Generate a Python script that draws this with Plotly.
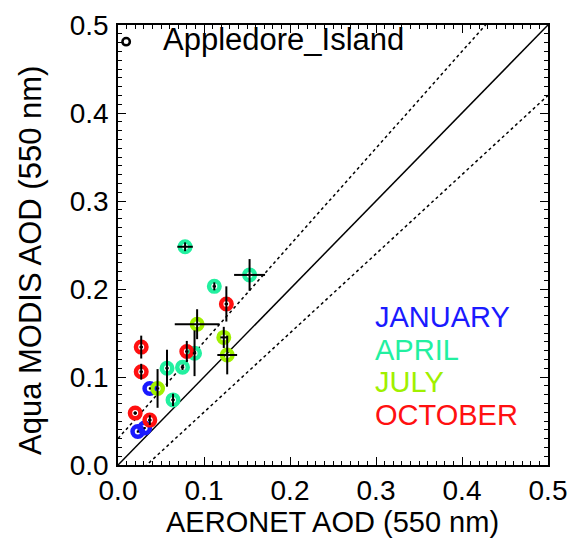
import plotly.graph_objects as go
import numpy as np

# ---- data (AERONET AOD vs Aqua MODIS AOD, 550 nm) ----
jan_x = [0.037, 0.023, 0.031]
jan_y = [0.087, 0.038, 0.042]
jan_xerr = [0.001, 0.001, 0.001]
jan_yerr = [0.001, 0.001, 0.001]

apr_x = [0.078, 0.153, 0.112, 0.089, 0.057, 0.075, 0.064]
apr_y = [0.248, 0.216, 0.203, 0.127, 0.110, 0.111, 0.074]
apr_xerr = [0.009, 0.018, 0.002, 0.002, 0.002, 0.002, 0.002]
apr_yerr = [0.005, 0.018, 0.0045, 0.026, 0.021, 0.003, 0.007]

jul_x = [0.092, 0.123, 0.127, 0.046]
jul_y = [0.160, 0.145, 0.125, 0.087]
jul_xerr = [0.026, 0.004, 0.0115, 0.002]
jul_yerr = [0.017, 0.012, 0.022, 0.022]

oct_x = [0.126, 0.027, 0.027, 0.080, 0.020, 0.037]
oct_y = [0.183, 0.134, 0.106, 0.129, 0.059, 0.051]
oct_xerr = [0.002, 0.002, 0.002, 0.002, 0.002, 0.002]
oct_yerr = [0.020, 0.013, 0.009, 0.012, 0.002, 0.0055]

months = ["JANUARY", "APRIL", "JULY", "OCTOBER"]
colors = ["#1a1aff", "#22f0a0", "#a0f000", "#ff1010"]
site = "Appledore_Island"

x_ticks = [0.0, 0.1, 0.2, 0.3, 0.4, 0.5]
line_x = [0.0, 0.5]

FONT = "Liberation Sans, Arial, Helvetica, sans-serif"

fig = go.Figure()

# reference lines: 1:1 and expected error envelope +/-(0.03 + 0.1*AOD)
lx = np.array(line_x)
fig.add_trace(go.Scatter(x=lx, y=lx, mode="lines",
                         line=dict(color="black", width=1.5), hoverinfo="skip"))
fig.add_trace(go.Scatter(x=lx, y=1.1 * lx + 0.03, mode="lines",
                         line=dict(color="black", width=1.5, dash="dot"), hoverinfo="skip"))
fig.add_trace(go.Scatter(x=lx, y=0.9 * lx - 0.03, mode="lines",
                         line=dict(color="black", width=1.5, dash="dot"), hoverinfo="skip"))

groups = [
    (jan_x, jan_y, jan_xerr, jan_yerr),
    (apr_x, apr_y, apr_xerr, apr_yerr),
    (jul_x, jul_y, jul_xerr, jul_yerr),
    (oct_x, oct_y, oct_xerr, oct_yerr),
]

for (gx, gy, gxe, gye), name, c in zip(groups, months, colors):
    fig.add_trace(go.Scatter(
        x=gx, y=gy, mode="markers", name=name,
        marker=dict(symbol="circle-open", size=10.5, color=c,
                    line=dict(width=4.5, color=c)),
        cliponaxis=False,
    ))

for (gx, gy, gxe, gye) in groups:
    fig.add_trace(go.Scatter(
        x=gx, y=gy, mode="markers",
        marker=dict(size=1, color="rgba(0,0,0,0)"),
        error_x=dict(type="data", array=gxe, color="black", thickness=2, width=0),
        error_y=dict(type="data", array=gye, color="black", thickness=2, width=0),
        hoverinfo="skip",
    ))

axis_common = dict(
    range=[0, 0.5], showgrid=False, zeroline=False,
    showline=True, linecolor="black", linewidth=1.5, mirror="allticks",
    ticks="inside", ticklen=8, tickwidth=1.2, tickcolor="black",
    tickvals=x_ticks, ticktext=["%.1f" % v for v in x_ticks],
    tickfont=dict(family=FONT, size=28, color="black"),
    ticklabeloverflow="allow",
    minor=dict(dtick=0.01, ticks="inside", ticklen=4, tickwidth=1, tickcolor="black", showgrid=False),
)

fig.update_xaxes(**axis_common, ticklabelstandoff=0)
fig.update_yaxes(**axis_common, ticklabelstandoff=2)

W, H = 577, 542
L, R, T, B = 118, 24, 10, 77
pw, ph = W - L - R, H - T - B


def px(xp):
    return (xp - L) / pw


def py(yp):
    return (H - B - yp) / ph


month_text = "<br>".join(
    "<span style='font-size:29px;color:%s'>%s</span>" % (c, m) for m, c in zip(months, colors)
)

annotations = [
    dict(text="AERONET AOD (550 nm)", x=px(335), y=py(524), xref="paper", yref="paper",
         showarrow=False, font=dict(family=FONT, size=29, color="black"),
         xanchor="center", yanchor="middle"),
    dict(text="Aqua MODIS AOD (550 nm)", x=px(30), y=py(254), xref="paper", yref="paper",
         showarrow=False, textangle=-90, font=dict(family=FONT, size=31, color="black"),
         xanchor="center", yanchor="middle"),
    dict(text=site, x=px(162), y=py(25), xref="paper", yref="paper",
         showarrow=False, font=dict(family=FONT, size=31, color="black"),
         xanchor="left", yanchor="middle"),
    dict(text=month_text, x=px(376), y=py(363), xref="paper", yref="paper",
         showarrow=False, align="left", font=dict(family=FONT, size=25, color="black"),
         xanchor="left", yanchor="middle"),
]

shapes = [
    dict(type="circle", xref="paper", yref="paper",
         x0=px(122.5), x1=px(130), y0=py(31), y1=py(23.5),
         line=dict(color="black", width=2.5)),
]

fig.update_layout(
    width=W, height=H,
    margin=dict(l=L, r=R, t=T, b=B, pad=0),
    paper_bgcolor="white", plot_bgcolor="white",
    showlegend=False,
    annotations=annotations, shapes=shapes,
)

fig.write_html("out.html")
